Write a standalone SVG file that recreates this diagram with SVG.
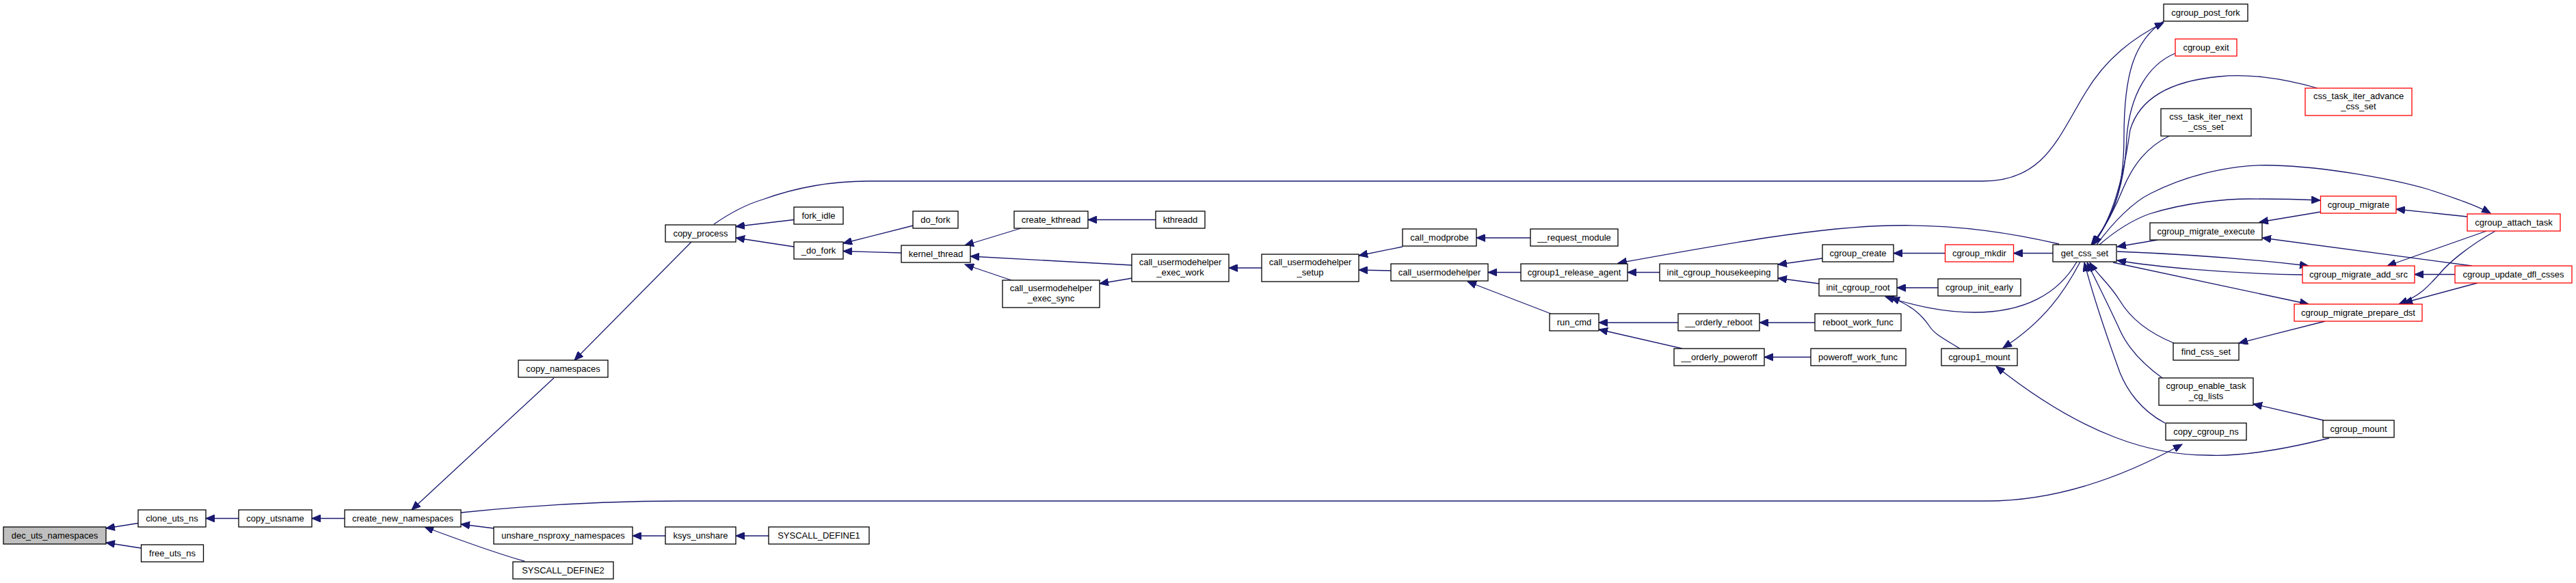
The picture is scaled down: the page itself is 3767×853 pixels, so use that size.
<svg xmlns="http://www.w3.org/2000/svg" width="3767" height="853" viewBox="0 0 3767 853">
<style>
.n rect{fill:#fff;stroke:#000;stroke-width:1.3}
.n.r rect{stroke:#ff0000}
.n.g rect{fill:#bfbfbf}
.n text{font-family:"Liberation Sans",Arial,Helvetica,sans-serif;font-size:13px;fill:#000;text-anchor:middle}
.e path{fill:none;stroke:#191970;stroke-width:1.3;marker-end:url(#ah)}
</style>
<defs>
<marker id="ah" markerWidth="14" markerHeight="11" refX="13" refY="5.5" orient="auto" markerUnits="userSpaceOnUse"><path d="M0,0 L13,5.5 L0,11 z" fill="#191970" stroke="#191970" stroke-width="1"/></marker>
</defs>
<rect width="3767" height="853" fill="#fff"/>
<g id="edges" class="e">
<path d="M202,765.5 L155,773"/>
<path d="M206.5,802 L155,794"/>
<path d="M349,758.5 L301,758.5"/>
<path d="M504,758.5 L456,758.5"/>
<path d="M810,553 L602,746"/>
<path d="M1011,354 L840,527"/>
<path d="M722,773 L674,767"/>
<path d="M767,821 C730,811 680,793 621,771"/>
<path d="M973,784 L925,784"/>
<path d="M1124,784 L1076,784"/>
<path d="M674,750 C760,741 880,733 1000,733 L2905,733 C3010,733 3110,695 3191,650"/>
<path d="M1161,321.5 L1076,331.5"/>
<path d="M1161,361 L1076,348"/>
<path d="M1044,328 C1070,310 1095,298 1115,292 C1170,272 1220,265 1270,265 L2900,265 C2990,265 3010,200 3050,135 C3080,85 3120,55 3164,33"/>
<path d="M1335.5,330 L1233,356"/>
<path d="M1318,370 L1233,367.5"/>
<path d="M1493,334 L1411,359"/>
<path d="M1655.5,388 L1419,375"/>
<path d="M1479,410 L1411,387"/>
<path d="M1655.5,407 L1608,415"/>
<path d="M1690,321.5 L1591,321.5"/>
<path d="M1845,392 L1797,392"/>
<path d="M2051,361 L1987,374"/>
<path d="M2034,396 L1987,395"/>
<path d="M2238,348 L2159,348"/>
<path d="M2224,398.5 L2176,398.5"/>
<path d="M2268,459 L2146,412"/>
<path d="M2427,398.5 L2380,398.5"/>
<path d="M3011,357 C2930,338 2850,328 2766,330 C2660,332 2520,357 2366,385"/>
<path d="M2454,472 L2338,472"/>
<path d="M2460,510 L2338,482"/>
<path d="M2665,378 L2600,387"/>
<path d="M2660,415 L2600,407"/>
<path d="M2654,472 L2573,472"/>
<path d="M2648,522.5 L2580,522.5"/>
<path d="M2844.5,370.5 L2769,370.5"/>
<path d="M2834,421 L2774,421"/>
<path d="M2866,510 C2845,497 2830,490 2822,478 C2810,460 2795,447 2765,435"/>
<path d="M3037,383 C3010,430 2960,457 2888,457 C2840,457 2800,447 2757,434"/>
<path d="M3042,383 C3020,425 2990,470 2929,509"/>
<path d="M3406,641 C3330,660 3270,668 3228,666 C3150,666 3050,640 2919,536"/>
<path d="M3002,370.5 L2944.5,370.5"/>
<path d="M3165,30 C3120,60 3106,110 3106,200 C3106,280 3090,320 3058,358"/>
<path d="M3181,78 C3140,95 3115,140 3110,200 C3108,270 3090,320 3059,358"/>
<path d="M3389,129 C3330,112 3280,108 3245,112 C3180,118 3130,140 3115,190 C3105,260 3090,320 3060,358"/>
<path d="M3172,199 C3140,215 3120,240 3105,275 C3095,300 3080,330 3061,358"/>
<path d="M3066,358 C3090,325 3120,295 3145,283 C3210,250 3280,240 3325,242 C3400,244 3500,262 3551,277 C3590,290 3620,300 3642,312"/>
<path d="M3070,358 C3085,345 3110,325 3143,313 C3200,295 3260,291 3290,291 C3330,291 3370,292 3393,293"/>
<path d="M3393.5,310 L3304,325"/>
<path d="M3608,317 L3504,306"/>
<path d="M3155,351 L3096,361"/>
<path d="M3096,368 C3200,372 3300,380 3376,389"/>
<path d="M3367,402 C3250,400 3150,390 3096,381"/>
<path d="M3090,384 L3376,445"/>
<path d="M3615,389 L3308,348"/>
<path d="M3636,338 L3491,389"/>
<path d="M3590,401.5 L3531,401.5"/>
<path d="M3649,338 C3610,360 3580,385 3568,400 C3550,420 3540,432 3508,445"/>
<path d="M3623,414 L3515,443"/>
<path d="M3400,470 L3274,502"/>
<path d="M3179,502 C3140,486 3115,465 3100,440 C3085,415 3065,400 3056,384"/>
<path d="M3162,553 C3130,530 3110,505 3100,483 C3085,450 3065,410 3052,384"/>
<path d="M3166,619 C3130,600 3110,570 3100,545 C3080,490 3060,430 3048,384"/>
<path d="M3398,615 L3295,591"/>
</g>
<g id="n1" class="n g"><rect x="5" y="771" width="150" height="25"/><text x="80" y="788">dec_uts_namespaces</text></g>
<g id="n2" class="n"><rect x="202" y="746" width="99" height="25"/><text x="251.5" y="763">clone_uts_ns</text></g>
<g id="n3" class="n"><rect x="206.5" y="797" width="91" height="25"/><text x="252" y="814">free_uts_ns</text></g>
<g id="n4" class="n"><rect x="349" y="746" width="107" height="25"/><text x="402.5" y="763">copy_utsname</text></g>
<g id="n5" class="n"><rect x="504" y="746" width="170" height="25"/><text x="589" y="763">create_new_namespaces</text></g>
<g id="n6" class="n"><rect x="758" y="527" width="131" height="25"/><text x="823.5" y="544">copy_namespaces</text></g>
<g id="n7" class="n"><rect x="722" y="771" width="203" height="25"/><text x="823.5" y="788">unshare_nsproxy_namespaces</text></g>
<g id="n8" class="n"><rect x="973" y="771" width="103" height="25"/><text x="1024.5" y="788">ksys_unshare</text></g>
<g id="n9" class="n"><rect x="1124" y="771" width="147" height="25"/><text x="1197.5" y="788">SYSCALL_DEFINE1</text></g>
<g id="n10" class="n"><rect x="750" y="822" width="147" height="25"/><text x="823.5" y="839">SYSCALL_DEFINE2</text></g>
<g id="n11" class="n"><rect x="973" y="329" width="103" height="25"/><text x="1024.5" y="346">copy_process</text></g>
<g id="n12" class="n"><rect x="1161" y="303" width="72" height="25"/><text x="1197" y="320">fork_idle</text></g>
<g id="n13" class="n"><rect x="1161" y="354" width="72" height="25"/><text x="1197" y="371">_do_fork</text></g>
<g id="n14" class="n"><rect x="1335" y="309" width="66" height="25"/><text x="1368" y="326">do_fork</text></g>
<g id="n15" class="n"><rect x="1318" y="359" width="101" height="25"/><text x="1368.5" y="376">kernel_thread</text></g>
<g id="n16" class="n"><rect x="1483" y="309" width="108" height="25"/><text x="1537" y="326">create_kthread</text></g>
<g id="n17" class="n"><rect x="1690" y="309" width="72" height="25"/><text x="1726" y="326">kthreadd</text></g>
<g id="n18" class="n"><rect x="1655" y="372" width="142" height="40"/><text x="1726" y="388">call_usermodehelper</text><text x="1726" y="403">_exec_work</text></g>
<g id="n19" class="n"><rect x="1466" y="410" width="142" height="40"/><text x="1537" y="426">call_usermodehelper</text><text x="1537" y="441">_exec_sync</text></g>
<g id="n20" class="n"><rect x="1845" y="372" width="142" height="40"/><text x="1916" y="388">call_usermodehelper</text><text x="1916" y="403">_setup</text></g>
<g id="n21" class="n"><rect x="2051" y="335" width="108" height="25"/><text x="2105" y="352">call_modprobe</text></g>
<g id="n22" class="n"><rect x="2238" y="335" width="128" height="25"/><text x="2302" y="352">__request_module</text></g>
<g id="n23" class="n"><rect x="2034" y="386" width="142" height="25"/><text x="2105" y="403">call_usermodehelper</text></g>
<g id="n24" class="n"><rect x="2224" y="386" width="156" height="25"/><text x="2302" y="403">cgroup1_release_agent</text></g>
<g id="n25" class="n"><rect x="2266" y="459" width="72" height="25"/><text x="2302" y="476">run_cmd</text></g>
<g id="n26" class="n"><rect x="2427" y="386" width="173" height="25"/><text x="2513.5" y="403">init_cgroup_housekeeping</text></g>
<g id="n27" class="n"><rect x="2454" y="459" width="119" height="25"/><text x="2513.5" y="476">__orderly_reboot</text></g>
<g id="n28" class="n"><rect x="2448" y="510" width="132" height="25"/><text x="2514" y="527">__orderly_poweroff</text></g>
<g id="n29" class="n"><rect x="2665" y="358" width="104" height="25"/><text x="2717" y="375">cgroup_create</text></g>
<g id="n30" class="n"><rect x="2660" y="408" width="114" height="25"/><text x="2717" y="425">init_cgroup_root</text></g>
<g id="n31" class="n"><rect x="2654" y="459" width="126" height="25"/><text x="2717" y="476">reboot_work_func</text></g>
<g id="n32" class="n"><rect x="2648" y="510" width="139" height="25"/><text x="2717" y="527">poweroff_work_func</text></g>
<g id="n33" class="n r"><rect x="2844.5" y="358" width="100" height="25"/><text x="2894.5" y="375">cgroup_mkdir</text></g>
<g id="n34" class="n"><rect x="2834" y="408" width="121" height="25"/><text x="2894.5" y="425">cgroup_init_early</text></g>
<g id="n35" class="n"><rect x="2839" y="510" width="111" height="25"/><text x="2894.5" y="527">cgroup1_mount</text></g>
<g id="n36" class="n"><rect x="3002" y="358" width="93" height="25"/><text x="3048.5" y="375">get_css_set</text></g>
<g id="n37" class="n"><rect x="3164" y="6" width="123" height="25"/><text x="3225.5" y="23">cgroup_post_fork</text></g>
<g id="n38" class="n r"><rect x="3181" y="57" width="90" height="25"/><text x="3226" y="74">cgroup_exit</text></g>
<g id="n39" class="n"><rect x="3160" y="159" width="132" height="40"/><text x="3226" y="175">css_task_iter_next</text><text x="3226" y="190">_css_set</text></g>
<g id="n40" class="n r"><rect x="3371" y="129" width="156" height="40"/><text x="3449" y="145">css_task_iter_advance</text><text x="3449" y="160">_css_set</text></g>
<g id="n41" class="n r"><rect x="3393.5" y="287" width="110.5" height="25"/><text x="3449" y="304">cgroup_migrate</text></g>
<g id="n42" class="n"><rect x="3144" y="326" width="164" height="25"/><text x="3226" y="343">cgroup_migrate_execute</text></g>
<g id="n43" class="n r"><rect x="3608" y="313" width="136" height="25"/><text x="3676" y="330">cgroup_attach_task</text></g>
<g id="n44" class="n r"><rect x="3367" y="389" width="164" height="25"/><text x="3449" y="406">cgroup_migrate_add_src</text></g>
<g id="n45" class="n r"><rect x="3590" y="389" width="171" height="25"/><text x="3675.5" y="406">cgroup_update_dfl_csses</text></g>
<g id="n46" class="n r"><rect x="3355" y="445" width="187" height="25"/><text x="3448.5" y="462">cgroup_migrate_prepare_dst</text></g>
<g id="n47" class="n"><rect x="3178" y="502" width="96" height="25"/><text x="3226" y="519">find_css_set</text></g>
<g id="n48" class="n"><rect x="3157" y="553" width="138" height="40"/><text x="3226" y="569">cgroup_enable_task</text><text x="3226" y="584">_cg_lists</text></g>
<g id="n49" class="n"><rect x="3167" y="619" width="118" height="25"/><text x="3226" y="636">copy_cgroup_ns</text></g>
<g id="n50" class="n"><rect x="3397" y="615" width="104" height="25"/><text x="3449" y="632">cgroup_mount</text></g>
</svg>
